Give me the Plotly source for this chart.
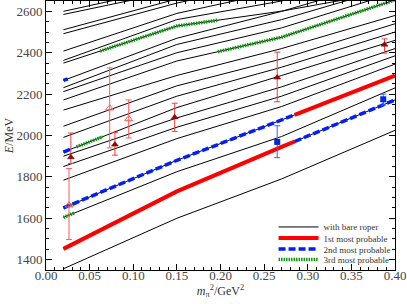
import plotly.graph_objects as go

# ---------------- data ----------------
mpi2_grid = [0.02, 0.15, 0.27, 0.40]

levels = [
    [1356, 1600, 1790, 2025],
    [1452, 1730, 1945, 2172],
    [1604, 1825, 1995, 2230],
    [1650, 1880, 2075, 2290],
    [1784, 1985, 2140, 2345],
    [1850, 2040, 2190, 2385],
    [1900, 2085, 2235, 2420],
    [1920, 2135, 2290, 2460],
    [1991, 2190, 2330, 2500],
    [2045, 2240, 2370, 2540],
    [2123, 2290, 2420, 2580],
    [2172, 2360, 2475, 2655],
    [2212, 2400, 2520, 2690],
    [2231, 2440, 2560, 2720],
    [2266, 2470, 2600, 2760],
    [2350, 2529, 2601, 2700],
    [2363, 2560, 2650, 2780],
    [2408, 2590, 2700, 2800],
    [2492, 2640, 2750, 2850],
    [2511, 2660, 2770, 2870],
    [2585, 2700, 2800, 2900],
    [2600, 2720, 2820, 2920],
]

first_x = [[0.02, 0.15, 0.27, 0.285], [0.285, 0.40]]
first_y = [[1452, 1730, 1945, 1971], [2100, 2290]]

second_x = [[0.02, 0.15, 0.27, 0.285], [0.285, 0.40], [0.02, 0.03], [0.02, 0.025]]
second_y = [[1650, 1880, 2075, 2100], [1971, 2172], [1920, 1937], [2266, 2274]]

third_x = [[0.02, 0.033], [0.02, 0.033], [0.035, 0.065], [0.062, 0.15, 0.197], [0.197, 0.27, 0.40]]
third_y = [[1604, 1627], [1650, 1673], [1945, 1994], [2408, 2529, 2557], [2405, 2475, 2655]]

open_tri_x = [0.0264, 0.073, 0.0948]
open_tri_y = [1663, 2132, 2080]
open_tri_up = [177, 195, 92]
open_tri_dn = [166, 192, 92]

fill_tri_x = [0.0285, 0.079, 0.1475, 0.265, 0.388]
fill_tri_y = [1895, 1956, 2088, 2280, 2439]
fill_tri_up = [117, 59, 68, 123, 28]
fill_tri_dn = [30, 51, 68, 117, 41]

sq_x = [0.265, 0.3865]
sq_y = [1969, 2175]
sq_up = [78, 25]
sq_dn = [76, 28]

x_ticks = [0.00, 0.05, 0.10, 0.15, 0.20, 0.25, 0.30, 0.35, 0.40]
y_ticks = [1400, 1600, 1800, 2000, 2200, 2400, 2600]

legend_names = ["with bare roper", "1st most probable", "2nd most probable", "3rd most probable"]

# ---------------- figure ----------------
fig = go.Figure()

for i, lv in enumerate(levels):
    fig.add_trace(go.Scatter(
        x=mpi2_grid, y=lv, mode="lines",
        line=dict(color="black", width=1),
        name=legend_names[0], showlegend=(i == 0), legend="legend",
        hoverinfo="skip"))

for i, (xs, ys) in enumerate(zip(third_x, third_y)):
    fig.add_trace(go.Scatter(
        x=xs, y=ys, mode="lines",
        line=dict(color="rgb(20,150,20)", width=3.5, dash="1.5px,1px"),
        name=legend_names[3], showlegend=(i == 0), legend="legend4"))

for i, (xs, ys) in enumerate(zip(second_x, second_y)):
    fig.add_trace(go.Scatter(
        x=xs, y=ys, mode="lines",
        line=dict(color="rgb(0,30,255)", width=3.5, dash="7px,3px"),
        name=legend_names[2], showlegend=(i == 0), legend="legend3"))

for i, (xs, ys) in enumerate(zip(first_x, first_y)):
    fig.add_trace(go.Scatter(
        x=xs, y=ys, mode="lines",
        line=dict(color="rgb(255,0,0)", width=4),
        name=legend_names[1], showlegend=(i == 0), legend="legend2"))

fig.add_trace(go.Scatter(
    x=open_tri_x, y=open_tri_y, mode="markers",
    marker=dict(symbol="triangle-up-open", size=7, color="rgb(255,90,90)", line=dict(width=1)),
    error_y=dict(type="data", array=open_tri_up, arrayminus=open_tri_dn,
                 color="rgb(255,90,90)", thickness=1, width=3),
    showlegend=False))

fig.add_trace(go.Scatter(
    x=fill_tri_x, y=fill_tri_y, mode="markers",
    marker=dict(symbol="triangle-up", size=6, color="rgb(170,0,0)",
                line=dict(color="rgb(90,0,0)", width=0.5)),
    error_y=dict(type="data", array=fill_tri_up, arrayminus=fill_tri_dn,
                 color="rgb(240,60,60)", thickness=1, width=3),
    showlegend=False))

fig.add_trace(go.Scatter(
    x=sq_x, y=sq_y, mode="markers",
    marker=dict(symbol="square", size=6, color="rgb(0,40,230)"),
    error_y=dict(type="data", array=sq_up, arrayminus=sq_dn,
                 color="rgb(60,90,255)", thickness=1, width=3),
    showlegend=False))

font_family = "Liberation Serif"
axis_common = dict(
    showline=True, linecolor="black", linewidth=1, mirror="allticks",
    ticks="inside", ticklen=6, tickwidth=1, tickcolor="black",
    showgrid=False, zeroline=False, automargin=False,
    tickfont=dict(family=font_family, size=13, color="#444"),
)

fig.update_xaxes(
    range=[0, 0.40], tickvals=x_ticks, ticktext=[f"{v:.2f}" for v in x_ticks],
    ticklabelstandoff=-7,
    minor=dict(dtick=0.01, ticks="inside", ticklen=3, tickcolor="black", showgrid=False),
    title=dict(text="<i>m</i><sub>π</sub><sup>2</sup>/GeV<sup>2</sup>",
               font=dict(family=font_family, size=12, color="#333"), standoff=0),
    **axis_common)
fig.update_yaxes(
    range=[1350, 2650], tickvals=y_ticks, ticktext=[str(v) for v in y_ticks],
    minor=dict(dtick=50, ticks="inside", ticklen=3, tickcolor="black", showgrid=False),
    title=dict(text="<i>E</i>/MeV", font=dict(family=font_family, size=12, color="#333"), standoff=0),
    **axis_common)

leg_common = dict(x=0.652, xanchor="left", yanchor="middle", bgcolor="rgba(0,0,0,0)",
                  font=dict(family=font_family, size=9, color="#333"),
                  itemwidth=40, borderwidth=0)
fig.update_layout(
    width=407, height=304,
    margin=dict(l=46, r=12, t=1, b=34),
    plot_bgcolor="white", paper_bgcolor="white",
    legend=dict(y=0.160, **leg_common),
    legend2=dict(y=0.119, **leg_common),
    legend3=dict(y=0.078, **leg_common),
    legend4=dict(y=0.039, **leg_common),
)

fig.write_html("out.html", config={"displayModeBar": False},
               post_script="document.body.style.margin='0px';")
